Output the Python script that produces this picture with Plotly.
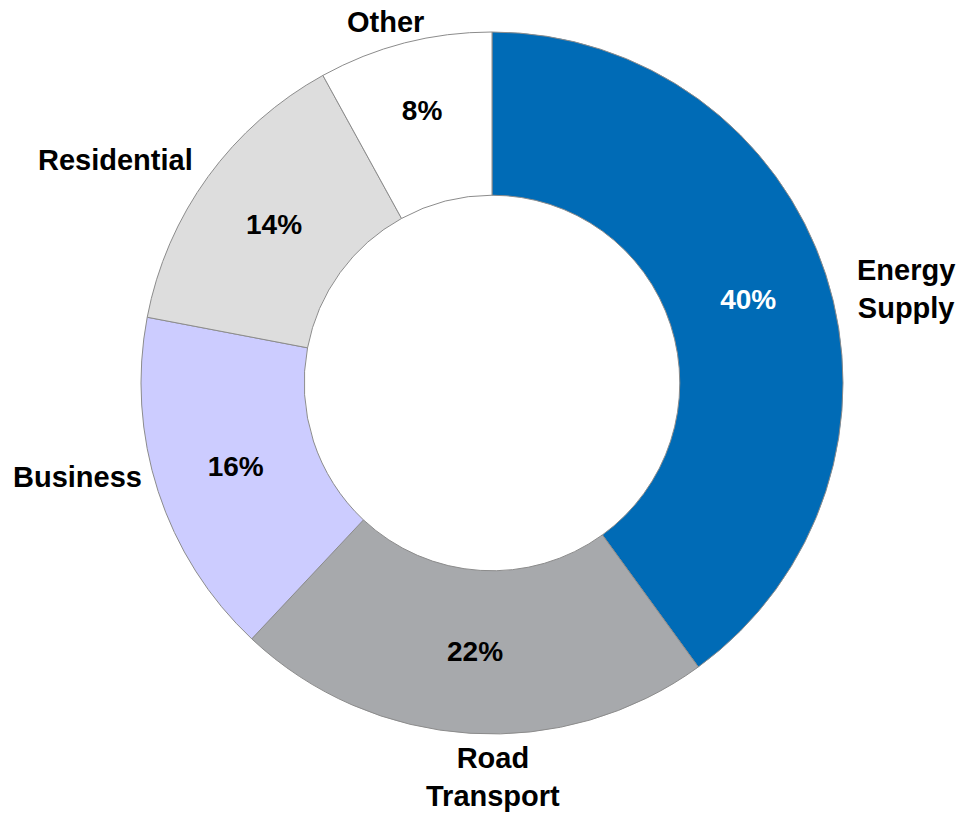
import plotly.graph_objects as go

# Emissions share by sector (%)
sectors = ["Energy Supply", "Road Transport", "Business", "Residential", "Other"]
shares = [40, 22, 16, 14, 8]
display_names = ["Energy<br>Supply", "Road<br>Transport", "Business", "Residential", "Other"]

slice_colors = ["#006BB6", "#A7A9AC", "#CCCCFF", "#DDDDDD", "#FFFFFF"]
pct_colors = ["#FFFFFF", "#000000", "#000000", "#000000", "#000000"]

W, H = 957, 816
cx, cy, r_out = 492, 383, 351  # ring centre and outer radius, px
FONT = "Liberation Sans, Arial, sans-serif"

fig = go.Figure(
    go.Pie(
        labels=sectors,
        values=shares,
        hole=0.535,
        sort=False,
        direction="clockwise",
        rotation=0,
        marker=dict(colors=slice_colors, line=dict(color="#8C8C8C", width=1)),
        texttemplate="<b>%{value}%</b>",
        textposition="inside",
        insidetextorientation="horizontal",
        textfont=dict(family=FONT, size=28, color=pct_colors),
        showlegend=False,
        hoverinfo="label+value",
        domain=dict(
            x=[(cx - r_out) / W, (cx + r_out) / W],
            y=[(H - cy - r_out) / H, (H - cy + r_out) / H],
        ),
    )
)

# Category labels placed around the ring (pixel centres)
label_pos = [(906, 289), (493, 777), (77, 477), (115, 160), (385, 22)]
for name, (px, py) in zip(display_names, label_pos):
    fig.add_annotation(
        x=px / W, y=1 - py / H, xref="paper", yref="paper",
        text=f"<b>{name}</b>", showarrow=False,
        xanchor="center", yanchor="middle", align="center",
        font=dict(family=FONT, size=29, color="#000000"),
    )

fig.update_layout(
    width=W, height=H,
    margin=dict(l=0, r=0, t=0, b=0),
    paper_bgcolor="#FFFFFF",
    plot_bgcolor="#FFFFFF",
    uniformtext=dict(minsize=28, mode="show"),
)

fig.write_html("out.html")
